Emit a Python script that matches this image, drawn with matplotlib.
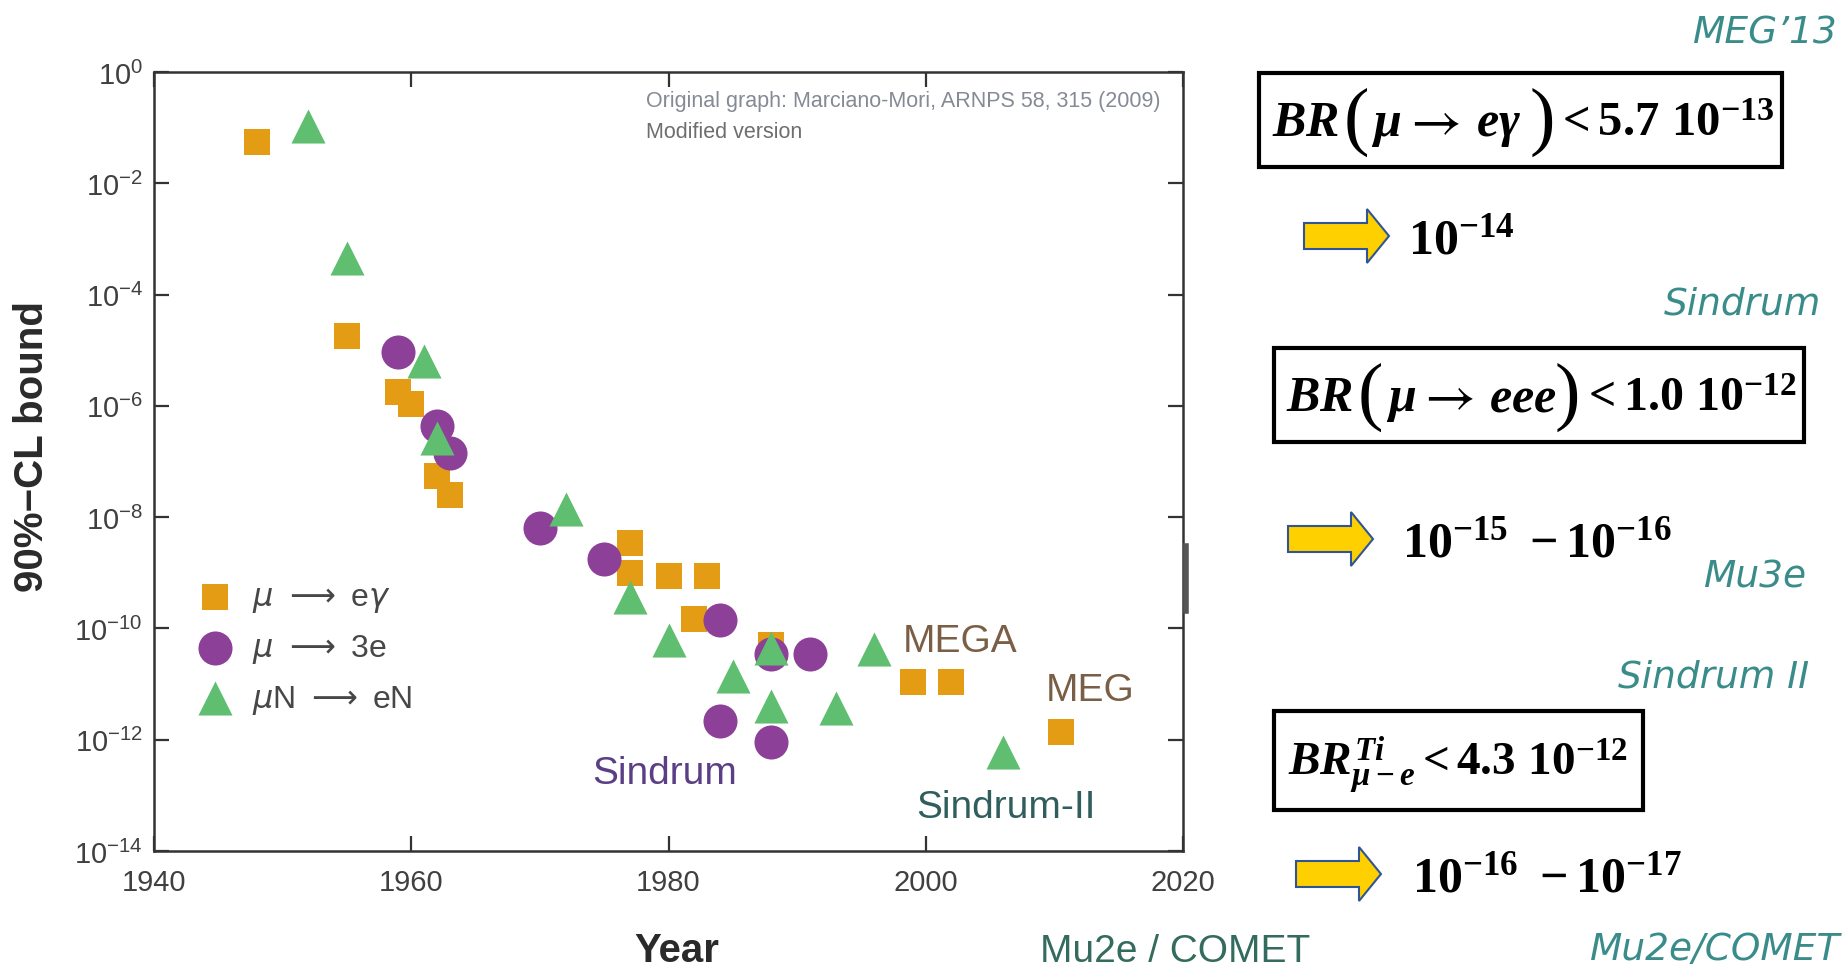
import numpy as np
import matplotlib
matplotlib.use("Agg")
import matplotlib.pyplot as plt
from matplotlib.patches import Rectangle, Polygon
from matplotlib.lines import Line2D
from matplotlib.ticker import NullLocator

# data (year, 90% CL bound)
meg_year = [1948, 1955, 1959, 1960, 1962, 1963, 1977, 1977, 1980, 1982, 1983, 1988, 1999, 2002, 2010.5]
meg_bound = [5.6e-2, 1.8e-5, 1.8e-6, 1.1e-6, 5.6e-8, 2.5e-8, 3.4e-9, 1.0e-9, 8.9e-10, 1.5e-10, 8.9e-10,
             5.0e-11, 1.1e-11, 1.1e-11, 1.4e-12]

eee_year = [1959, 1962, 1963, 1970, 1975, 1984, 1988, 1991, 1984, 1988]
eee_bound = [9.3e-6, 4.4e-7, 1.4e-7, 6.5e-9, 1.8e-9, 1.4e-10, 3.4e-11, 3.4e-11, 2.2e-12, 9.0e-13]

conv_year = [1952, 1955, 1961, 1962, 1972, 1977, 1980, 1985, 1988, 1988, 1993, 1996, 2006]
conv_bound = [1.05e-1, 4.6e-4, 6.5e-6, 2.6e-7, 1.4e-8, 3.6e-10, 6.3e-11, 1.4e-11, 4.4e-11, 4.0e-12,
              3.7e-12, 4.2e-11, 6.0e-13]

legend_labels = [r'$\mu\ \longrightarrow$ e$\gamma$', r'$\mu\ \longrightarrow$ 3e', r'$\mu$N $\longrightarrow$ eN']
x_ticks = [1940, 1960, 1980, 2000, 2020]
y_exps = [0, -2, -4, -6, -8, -10, -12, -14]

# experiment labels in the plot: text, year, log10(bound), colour
exp_labels = [("MEGA", 1998.2, -10.4, "#7a5e45"),
              ("MEG", 2009.3, -11.29, "#7a5e45"),
              ("Sindrum", 1974.05, -12.78, "#5b3f86"),
              ("Sindrum-II", 1999.3, -13.39, "#2f5e5c")]

W, H = 1846, 970
def fx(x):
    return x / W
def fy(y):
    return 1 - y / H

plt.rcParams['font.family'] = ['Liberation Sans', 'DejaVu Sans']
plt.rcParams['mathtext.rm'] = 'Liberation Serif:bold'
plt.rcParams['mathtext.it'] = 'Liberation Serif:bold:italic'
plt.rcParams['mathtext.bf'] = 'Liberation Serif:bold'

fig = plt.figure(figsize=(W / 100, H / 100), dpi=100)
ax = fig.add_axes([fx(154), fy(852), fx(1183) - fx(154), fy(73) - fy(852)])

ax.scatter(meg_year, meg_bound, marker='s', s=26 ** 2 * 0.52, color='#e49c14', lw=0, zorder=3)
ax.scatter(eee_year, eee_bound, marker='o', s=34 ** 2 * 0.52, color='#8c4097', lw=0, zorder=4)
ax.scatter(conv_year, conv_bound, marker='^', s=34 ** 2 * 0.52, color='#60be70', lw=0, zorder=5)

ax.set_yscale('log')
ax.set_xlim(1940, 2020)
ax.set_ylim(1e-14, 1)
ax.set_xticks(x_ticks)
ax.set_yticks([10.0 ** e for e in y_exps])
ax.yaxis.set_minor_locator(NullLocator())
ax.tick_params(direction='in', length=11, width=1.6, color='#333333', top=True, right=True,
               labelsize=21, labelcolor='#404040')
ax.tick_params(axis='x', pad=12)
ax.tick_params(axis='y', pad=8)
for sp in ax.spines.values():
    sp.set_linewidth(1.8)
    sp.set_color('#333333')

ax.set_xlabel('Year', fontsize=29, fontweight='bold', color='#2a2a2a')
ax.xaxis.label.set_va('center')
ax.xaxis.set_label_coords((677 - 154) / 1029, (852 - 951) / 779)
ax.set_ylabel('90%−CL bound', fontsize=29, fontweight='bold', color='#2a2a2a')
ax.yaxis.label.set_va('center')
ax.yaxis.set_label_coords((32 - 154) / 1029, (852 - 447) / 779)

for txt, yr, e, c in exp_labels:
    ax.text(yr, 10.0 ** e, txt, fontsize=28, color=c, va='baseline', ha='left')

ax.legend(ax.collections, legend_labels, loc='upper left', bbox_to_anchor=(fx(196), fy(583)),
          bbox_transform=fig.transFigure, frameon=False, fontsize=23, labelcolor='#474747',
          borderpad=0, handlelength=1.2, handletextpad=0.56, labelspacing=0.56, borderaxespad=0)

fig.text(fx(646), fy(102), 'Original graph: Marciano-Mori, ARNPS 58, 315 (2009)', fontsize=15.5,
         color='#858a95', va='center')
fig.text(fx(646), fy(132), 'Modified version', fontsize=15.5, color='#6e6e6e', va='center')
fig.text(fx(1040), fy(962), 'Mu2e / COMET', fontsize=28, color='#336b5e', va='baseline')

# little thick piece on the right frame
fig.add_artist(Line2D([fx(1186), fx(1186)], [fy(547), fy(612)], lw=4, color='#555555',
                      transform=fig.transFigure))

# right side: current limits and expected sensitivities
teal = '#3a8c8a'
side = [("MEG’13", 1838, 43), ("Sindrum", 1821, 315), ("Mu3e", 1807, 588),
        ("Sindrum II", 1809, 688), ("Mu2e/COMET", 1840, 960)]
for txt, xr, yb in side:
    fig.text(fx(xr), fy(yb), txt, fontsize=27, color=teal, style='italic', ha='right', va='baseline',
             family='DejaVu Sans')

boxes = [(1259, 74, 1782, 168), (1274, 349, 1804, 443), (1274, 712, 1643, 811)]
for x0, y0, x1, y1 in boxes:
    fig.add_artist(Rectangle((fx(x0), fy(y1)), fx(x1) - fx(x0), fy(y0) - fy(y1), fill=False,
                             lw=3, ec='black', transform=fig.transFigure))

# formulas, put together piece by piece: (text, left x, baseline y, size, kind)
pieces = [(r'$BR$', 1272, 136, 36, 'm'), ('(', 1344, 141, 55, 'p'), (r'$\mu$', 1371, 136, 36, 'm'),
          (r'$\rightarrow$', 1402, 136, 40, 'a'), (r'$e\gamma$', 1476, 136, 36, 'm'),
          (')', 1530, 141, 55, 'p'), (r'$<5.7\ 10^{-13}$', 1555, 136, 35, 'm'),
          (r'$BR$', 1286, 411, 36, 'm'), ('(', 1358, 416, 55, 'p'), (r'$\mu$', 1386, 411, 36, 'm'),
          (r'$\rightarrow$', 1416, 411, 40, 'a'), (r'$eee$', 1489, 411, 36, 'm'),
          (')', 1555, 416, 55, 'p'), (r'$<1.0\ 10^{-12}$', 1581, 411, 34.5, 'm'),
          (r'$BR^{Ti}_{\mu-e}<4.3\ 10^{-12}$', 1288, 775, 34, 'm'),
          (r'$10^{-14}$', 1408, 254, 36, 'm'),
          (r'$10^{-15}\ -10^{-16}$', 1402, 557, 36, 'm'),
          (r'$10^{-16}\ -10^{-17}$', 1412, 892, 36, 'm')]
for t, x, yb, fs, kind in pieces:
    if kind == 'p':
        fig.text(fx(x), fy(yb), t, fontsize=fs, family='Liberation Serif', va='baseline', ha='left')
    elif kind == 'a':
        fig.text(fx(x), fy(yb), t, fontsize=fs, math_fontfamily='stix', va='baseline', ha='left')
    else:
        fig.text(fx(x), fy(yb), t, fontsize=fs, math_fontfamily='custom', va='baseline', ha='left')

def block_arrow(x0, x1, yc, sh=13, hh=27, hl=22):
    pts = [(x0, yc - sh), (x1 - hl, yc - sh), (x1 - hl, yc - hh), (x1, yc),
           (x1 - hl, yc + hh), (x1 - hl, yc + sh), (x0, yc + sh)]
    pts = [(fx(a), fy(b)) for a, b in pts]
    fig.add_artist(Polygon(pts, closed=True, fc='#ffd000', ec='#2f5597', lw=1.5,
                           transform=fig.transFigure))

block_arrow(1304, 1389, 237)
block_arrow(1288, 1373, 540)
block_arrow(1296, 1381, 875)

fig.savefig('out.png', dpi=100)
